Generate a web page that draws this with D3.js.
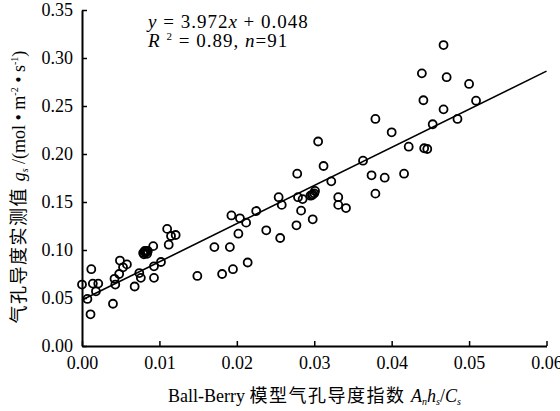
<!DOCTYPE html>
<html>
<head>
<meta charset="utf-8">
<script src="https://cdn.jsdelivr.net/npm/d3@7"></script>
<style>
  body { margin: 0; background: #fff; }
  svg { display: block; }
</style>
</head>
<body>
<svg id="chart" width="560" height="411"></svg>
<script>
// index Ah/Cs
const xVals = [0.0000, 0.0007, 0.0011, 0.0012, 0.0014, 0.0021, 0.0018, 0.0040, 0.0042, 0.0043,
  0.0048, 0.0049, 0.0053, 0.0058, 0.0068, 0.0074, 0.0076, 0.0079, 0.0082, 0.0085,
  0.0092, 0.0093, 0.0093, 0.0102, 0.0110, 0.0112, 0.0115, 0.0121, 0.0149, 0.0171,
  0.0181, 0.0191, 0.0193, 0.0195, 0.0202, 0.0204, 0.0212, 0.0214, 0.0225, 0.0238,
  0.0254, 0.0256, 0.0258, 0.0277, 0.0278, 0.0279, 0.0283, 0.0285, 0.0295, 0.0298,
  0.0298, 0.0301, 0.0305, 0.0312, 0.0322, 0.0331, 0.0331, 0.0341, 0.0467, 0.0439,
  0.0471, 0.0500, 0.0441, 0.0509, 0.0467, 0.0379, 0.0485, 0.0453, 0.0400, 0.0422,
  0.0442, 0.0446, 0.0363, 0.0374, 0.0391, 0.0416, 0.0379,
  0.0080, 0.0083, 0.0081, 0.0084, 0.0297, 0.0300];
// measured gs
const yVals = [0.064, 0.049, 0.033, 0.080, 0.065, 0.065, 0.057, 0.044, 0.070, 0.064,
  0.075, 0.089, 0.082, 0.085, 0.062, 0.076, 0.071, 0.097, 0.097, 0.099,
  0.104, 0.071, 0.083, 0.0875, 0.122, 0.1055, 0.1146, 0.1156, 0.073, 0.103,
  0.075, 0.103, 0.136, 0.080, 0.117, 0.133, 0.1285, 0.087, 0.1406, 0.1205,
  0.155, 0.1125, 0.147, 0.1257, 0.1795, 0.155, 0.141, 0.153, 0.1566, 0.132,
  0.158, 0.1615, 0.213, 0.1875, 0.1715, 0.155, 0.147, 0.1437, 0.3135, 0.284,
  0.280, 0.273, 0.256, 0.2555, 0.2465, 0.2365, 0.2365, 0.231, 0.2226, 0.2076,
  0.206, 0.2052, 0.193, 0.1778, 0.1753, 0.1795, 0.1587,
  0.0955, 0.0985, 0.0990, 0.0960, 0.1570, 0.1590];

const slope = 3.972, intercept = 0.048;
const xTicks = [0, 0.01, 0.02, 0.03, 0.04, 0.05, 0.06];
const yTicks = [0, 0.05, 0.10, 0.15, 0.20, 0.25, 0.30, 0.35];

const svg = d3.select('#chart');
const serif = 'Liberation Serif, Times New Roman, serif';
const cjk = 'Noto Sans CJK SC';

const x = d3.scaleLinear().domain([0, 0.06]).range([82, 546.5]);
const y = d3.scaleLinear().domain([0, 0.35]).range([346, 10]);

const xAxis = svg.append('g')
  .attr('transform', 'translate(0,346)')
  .call(d3.axisBottom(x).tickValues(xTicks).tickFormat(d3.format('.2f'))
    .tickSizeInner(-5).tickSizeOuter(0).tickPadding(10));

const yAxis = svg.append('g')
  .attr('transform', 'translate(82,0)')
  .call(d3.axisLeft(y).tickValues(yTicks).tickFormat(d3.format('.2f'))
    .tickSizeInner(-5).tickSizeOuter(0).tickPadding(9));

[xAxis, yAxis].forEach(g => {
  g.select('.domain').attr('stroke', '#000').attr('stroke-width', 2);
  g.selectAll('.tick line').attr('stroke', '#000').attr('stroke-width', 1.5);
  g.selectAll('.tick text')
    .attr('font-family', serif)
    .attr('font-size', '18px')
    .attr('fill', '#000');
});

// regression line
svg.append('line')
  .attr('x1', x(0)).attr('y1', y(intercept))
  .attr('x2', x(0.06)).attr('y2', y(slope * 0.06 + intercept))
  .attr('stroke', '#000')
  .attr('stroke-width', 1.6);

svg.append('g').selectAll('circle')
  .data(d3.zip(xVals, yVals))
  .join('circle')
  .attr('cx', d => x(d[0]))
  .attr('cy', d => y(d[1]))
  .attr('r', 4)
  .attr('fill', 'none')
  .attr('stroke', '#000')
  .attr('stroke-width', 1.8);

// equation
const eq = svg.append('g')
  .attr('font-family', serif)
  .attr('font-size', '19px')
  .attr('letter-spacing', 1)
  .attr('fill', '#000');

const l1 = eq.append('text').attr('x', 148).attr('y', 28);
l1.append('tspan').attr('font-style', 'italic').text('y');
l1.append('tspan').text(' = 3.972');
l1.append('tspan').attr('font-style', 'italic').text('x');
l1.append('tspan').text(' + 0.048');

const l2 = eq.append('text').attr('x', 148).attr('y', 47);
l2.append('tspan').attr('font-style', 'italic').text('R');
l2.append('tspan').attr('font-size', '11px').attr('dx', 6).attr('dy', -7).text('2');
l2.append('tspan').attr('dy', 7).text(' = 0.89, ');
l2.append('tspan').attr('font-style', 'italic').text('n');
l2.append('tspan').text('=91');

// x title
const xt = svg.append('text')
  .attr('x', 168).attr('y', 402)
  .attr('font-size', '18px')
  .attr('fill', '#000');
xt.append('tspan').attr('font-family', serif).text('Ball-Berry ');
xt.append('tspan').attr('font-family', cjk).attr('font-size', '18px').attr('letter-spacing', 1.5).text('模型气孔导度指数 ');
xt.append('tspan').attr('font-family', serif).attr('font-style', 'italic').text('A');
xt.append('tspan').attr('font-family', serif).attr('font-style', 'italic').attr('font-size', '10px').attr('dy', 3).text('n');
xt.append('tspan').attr('font-family', serif).attr('font-style', 'italic').attr('dy', -3).text('h');
xt.append('tspan').attr('font-family', serif).attr('font-style', 'italic').attr('font-size', '10px').attr('dy', 3).text('s');
xt.append('tspan').attr('font-family', serif).attr('dy', -3).text('/');
xt.append('tspan').attr('font-family', serif).attr('font-style', 'italic').text('C');
xt.append('tspan').attr('font-family', serif).attr('font-style', 'italic').attr('font-size', '10px').attr('dy', 3).text('s');

// y title
const yt = svg.append('text')
  .attr('transform', 'translate(25,187) rotate(-90)')
  .attr('text-anchor', 'middle')
  .attr('font-size', '18px')
  .attr('fill', '#000');
yt.append('tspan').attr('font-family', cjk).attr('font-size', '18px').attr('letter-spacing', 1.5).text('气孔导度实测值 ');
yt.append('tspan').attr('font-family', serif).attr('font-style', 'italic').text('g');
yt.append('tspan').attr('font-family', serif).attr('font-style', 'italic').attr('font-size', '10px').attr('dy', 3).text('s');
yt.append('tspan').attr('font-family', serif).attr('dy', -3).text(' /(mol • m');
yt.append('tspan').attr('font-family', serif).attr('font-size', '10px').attr('dy', -7).text('-2');
yt.append('tspan').attr('font-family', serif).attr('dy', 7).text(' • s');
yt.append('tspan').attr('font-family', serif).attr('font-size', '10px').attr('dy', -7).text('-1');
yt.append('tspan').attr('font-family', serif).attr('dy', 7).text(')');
</script>
</body>
</html>
